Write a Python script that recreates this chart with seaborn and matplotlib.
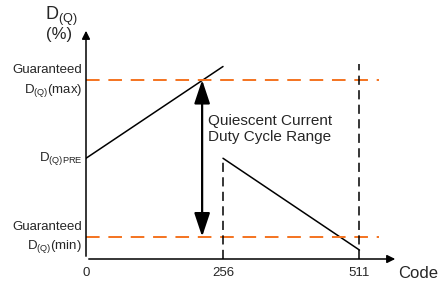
import matplotlib
matplotlib.use("Agg")
import matplotlib.pyplot as plt
import seaborn as sns
import pandas as pd

# data (code vs duty cycle, arbitrary % units)
codes_rise = [0, 256]
duty_rise = [45, 86]
codes_fall = [256, 511]
duty_fall = [45, 4]
d_max = 80
d_min = 10
d_pre = 45
tick_codes = [0, 256, 511]
tick_labels = ["0", "256", "511"]
dash_256_top = 45
dash_511_top = 87
arrow_code = 217

sns.set_theme(style="white")
plt.rcParams['font.family'] = ['Liberation Sans', 'DejaVu Sans']
plt.rcParams['mathtext.fontset'] = 'custom'
plt.rcParams['mathtext.rm'] = 'Liberation Sans'
plt.rcParams['mathtext.it'] = 'Liberation Sans'

fig = plt.figure(figsize=(4.39, 2.82), dpi=100)
ax = fig.add_axes([86 / 439, 23 / 282, 312 / 439, 231 / 282])
ax.set_xlim(0, 583)
ax.set_ylim(0, 103.2)
for s in ax.spines.values():
    s.set_visible(False)
ax.set_yticks([])
ax.set_xticks(tick_codes)
ax.set_xticklabels(tick_labels, fontsize=9.5)
ax.tick_params(axis='x', length=2, width=1, color="black", pad=4)

rise = pd.DataFrame({"code": codes_rise, "duty": duty_rise})
fall = pd.DataFrame({"code": codes_fall, "duty": duty_fall})
sns.lineplot(data=rise, x="code", y="duty", ax=ax, color="black", lw=1.1)
sns.lineplot(data=fall, x="code", y="duty", ax=ax, color="black", lw=1.1)
ax.set_xlabel("")
ax.set_ylabel("")

# guaranteed limits
orange = "#f4731f"
for d in [d_max, d_min]:
    ax.plot([0, 548], [d, d], color=orange, lw=1.4, dashes=(7, 4.5))

# vertical dashed markers
ax.plot([256, 256], [0, dash_256_top], color="black", lw=1.1, dashes=(6, 3.5))
ax.plot([511, 511], [0, dash_511_top], color="black", lw=1.1, dashes=(6, 3.5))

# axes with arrows
ax.annotate("", xy=(0, 103.2), xytext=(0, 0),
            arrowprops=dict(arrowstyle="-|>", color="black", lw=1.1, mutation_scale=12),
            annotation_clip=False)
ax.annotate("", xy=(583, 0), xytext=(0, 0),
            arrowprops=dict(arrowstyle="-|>", color="black", lw=1.1, mutation_scale=12),
            annotation_clip=False)

# range double arrow
ax.annotate("", xy=(arrow_code, d_min), xytext=(arrow_code, d_max),
            arrowprops=dict(arrowstyle="<|-|>,head_length=0.9,head_width=0.3",
                            color="black", lw=1.6, mutation_scale=16,
                            shrinkA=0, shrinkB=0))
ax.text(228, 58, "Quiescent Current\nDuty Cycle Range", fontsize=11, va="center",
        ha="left", linespacing=1.15)

# left-hand labels
ax.text(-7, d_max + 4.3, "Guaranteed", fontsize=9.5, ha="right", va="center")
ax.text(-7, d_max - 4.6, r"D$_{\rm (Q)}$(max)", fontsize=9.5, ha="right", va="center")
ax.text(-7, d_min + 4.3, "Guaranteed", fontsize=9.5, ha="right", va="center")
ax.text(-7, d_min - 4.6, r"D$_{\rm (Q)}$(min)", fontsize=9.5, ha="right", va="center")
ax.text(-7, d_pre, r"D$_{\rm (Q)PRE}$", fontsize=9.5, ha="right", va="center")

ax.text(-77, 108.4, r"D$_{\rm (Q)}$", fontsize=13, ha="left", va="center", clip_on=False)
ax.text(-51, 100.3, "(%)", fontsize=12, ha="center", va="center", clip_on=False)
ax.text(583, -6.3, "Code", fontsize=12, ha="left", va="center", clip_on=False)

plt.savefig("out.png", dpi=100)
